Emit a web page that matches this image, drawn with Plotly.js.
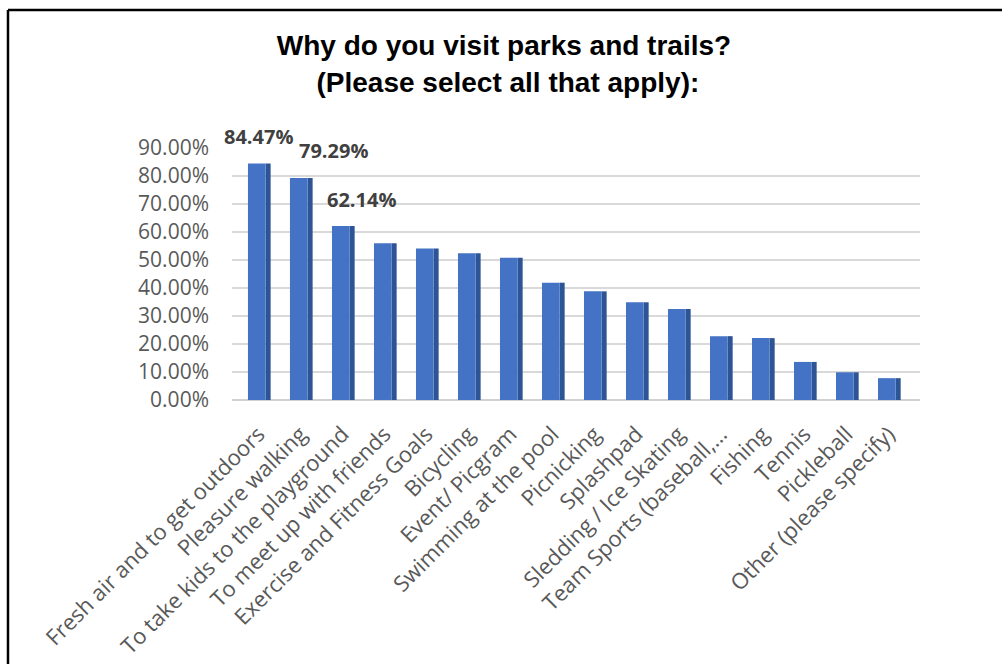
<!DOCTYPE html>
<html>
<head>
<meta charset="utf-8">
<script src="https://cdn.plot.ly/plotly-3.0.1.min.js"></script>
<style>html,body{margin:0;padding:0;background:#fff;}</style>
</head>
<body>
<div id="chart" style="width:1002px;height:664px;"></div>
<script>
const categories = [
  "Fresh air and to get outdoors",
  "Pleasure walking",
  "To take kids to the playground",
  "To meet up with friends",
  "Exercise and Fitness Goals",
  "Bicycling",
  "Event/ Picgram",
  "Swimming at the pool",
  "Picnicking",
  "Splashpad",
  "Sledding / Ice Skating",
  "Team Sports (baseball,…",
  "Fishing",
  "Tennis",
  "Pickleball",
  "Other (please specify)"
];
const values = [84.47, 79.29, 62.14, 56.0, 54.1, 52.4, 50.8, 41.9, 38.8, 34.9, 32.5, 22.8, 22.1, 13.6, 9.9, 7.8];
const labeledBars = 3;
const labelXShift = [0, 33, 19];
const yTicks = [0, 10, 20, 30, 40, 50, 60, 70, 80, 90];
const yTickText = yTicks.map(v => v.toFixed(2) + '%');

const fontFamily = "'Open Sans', 'Noto Sans', sans-serif";

const front = {
  type: 'bar', x: categories, y: values,
  width: 0.42, offset: -0.25,
  marker: {color: '#4472C4', line: {width: 0}},
  hovertemplate: '%{x}: %{y:.2f}%<extra></extra>',
  showlegend: false
};
const side = {
  type: 'bar', x: categories, y: values,
  width: 0.12, offset: 0.17,
  marker: {color: '#2D5596', line: {width: 0}},
  hoverinfo: 'skip',
  showlegend: false
};

const annotations = [];
for (let i = 0; i < labeledBars; i++) {
  annotations.push({
    x: categories[i], y: values[i], xref: 'x', yref: 'y',
    text: '<b>' + values[i].toFixed(2) + '%</b>',
    showarrow: false, xanchor: 'center', yanchor: 'middle',
    xshift: labelXShift[i], yshift: 27,
    font: {family: fontFamily, size: 20, color: '#404040'}
  });
}

const layout = {
  width: 1002, height: 664,
  margin: {l: 232, r: 82, t: 148, b: 264},
  paper_bgcolor: '#ffffff', plot_bgcolor: '#ffffff',
  barmode: 'overlay',
  title: {
    text: '<b>Why do you visit parks and trails?<br> (Please select all that apply):</b>',
    font: {family: "'Liberation Sans', Arial, sans-serif", size: 28, color: '#000000'},
    x: 0.503, xanchor: 'center', xref: 'container',
    y: 0.917, yanchor: 'top', yref: 'container'
  },
  xaxis: {
    type: 'category', range: [-0.63, 15.75],
    tickangle: -45, ticks: '', showgrid: false, showline: false, zeroline: false,
    ticklabelstandoff: 16,
    tickfont: {family: fontFamily, size: 22, color: '#595959'}
  },
  yaxis: {
    range: [0, 90], tickvals: yTicks, ticktext: yTickText,
    ticks: '', showline: false,
    gridcolor: '#d9d9d9', gridwidth: 1.5,
    zeroline: true, zerolinecolor: '#d0d0d0', zerolinewidth: 1.5,
    ticklabelstandoff: 22,
    tickfont: {family: fontFamily, size: 21, color: '#595959'}
  },
  annotations: annotations,
  shapes: [
    {type: 'line', xref: 'paper', yref: 'paper', x0: -0.3256, x1: 1.2, y0: 1.548, y1: 1.548, line: {color: '#000000', width: 2.5}},
    {type: 'line', xref: 'paper', yref: 'paper', x0: -0.3256, x1: -0.3256, y0: 1.548, y1: -1.2, line: {color: '#000000', width: 2.5}}
  ]
};

Plotly.newPlot('chart', [side, front], layout, {displayModeBar: false, responsive: false});
</script>
</body>
</html>
